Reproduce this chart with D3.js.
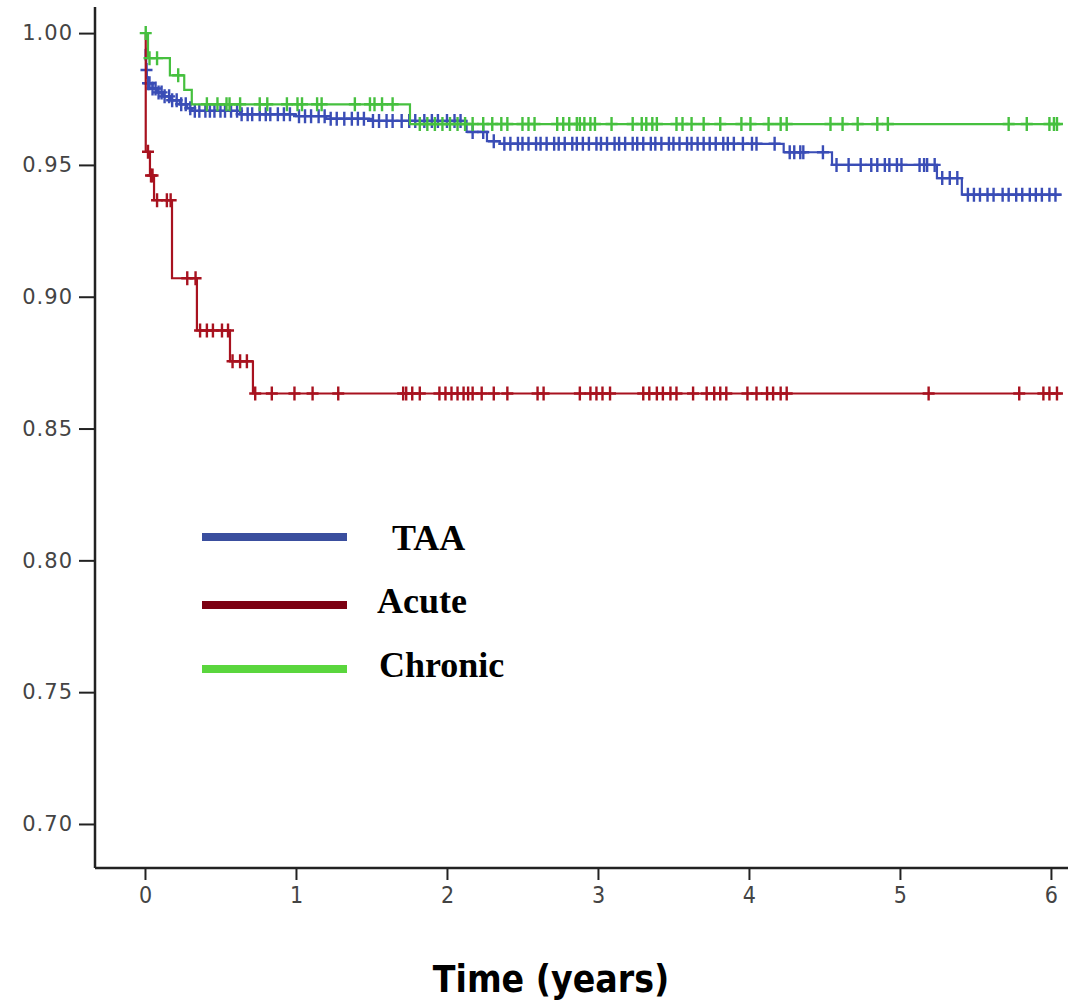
<!DOCTYPE html>
<html>
<head>
<meta charset="utf-8">
<script src="https://cdn.jsdelivr.net/npm/d3@7"></script>
<style>
  body { margin: 0; background: #fff; }
  svg { display: block; }
</style>
</head>
<body>
<div id="km"></div>
<script>
// groups, in draw order
var groups = ["TAA", "Acute", "Chronic"];
var lineColors = ["#3a4db6", "#a8121f", "#46c03f"];
var legendColors = ["#3a4e9e", "#7c0012", "#5ad63d"];

// survival steps [time (years), cumulative survival]
var taaSteps = [[0, 0.994], [0.004, 0.99], [0.008, 0.986], [0.012, 0.983], [0.02, 0.981], [0.05, 0.979],
  [0.08, 0.9775], [0.12, 0.976], [0.17, 0.9745], [0.23, 0.973], [0.28, 0.9715], [0.31, 0.9705],
  [0.63, 0.9692], [1.0, 0.9685], [1.2, 0.9675], [1.5, 0.9667], [2.13, 0.9625], [2.265, 0.959],
  [2.35, 0.958], [4.23, 0.9548], [4.55, 0.950], [5.245, 0.945], [5.41, 0.9387]];
var acuteSteps = [[0, 1.0], [0.005, 0.955], [0.033, 0.946], [0.06, 0.9366], [0.179, 0.907],
  [0.344, 0.8872], [0.563, 0.8755], [0.715, 0.8633]];
var chronicSteps = [[0, 1.0], [0.02, 0.9905], [0.165, 0.984], [0.26, 0.9785], [0.31, 0.973],
  [1.755, 0.9655]];
var endTime = 6.07;

// censored times (years)
var taaCensored = [0.01, 0.02, 0.03, 0.05, 0.07, 0.09, 0.11, 0.13, 0.16, 0.18, 0.21, 0.24, 0.27, 0.3,
  0.33, 0.36, 0.4, 0.43, 0.46, 0.5, 0.53, 0.57, 0.61, 0.64, 0.68, 0.71, 0.76, 0.8, 0.83, 0.88, 0.92, 0.96,
  1.02, 1.06, 1.1, 1.15, 1.19, 1.23, 1.27, 1.32, 1.37, 1.41, 1.45, 1.51, 1.55, 1.6, 1.64, 1.7, 1.75,
  1.79, 1.85, 1.9, 1.94, 2.0, 2.05, 2.09, 2.17, 2.24, 2.31,
  2.38, 2.42, 2.47, 2.5, 2.54, 2.59, 2.62, 2.66, 2.71, 2.74, 2.78, 2.83, 2.86, 2.9, 2.94, 2.99, 3.02,
  3.06, 3.11, 3.14, 3.18, 3.23, 3.26, 3.3, 3.35, 3.38, 3.42, 3.47, 3.5, 3.54, 3.59, 3.62, 3.66, 3.7,
  3.74, 3.78, 3.83, 3.86, 3.9, 3.96, 4.02, 4.05, 4.17,
  4.27, 4.3, 4.34, 4.36, 4.49,
  4.58, 4.66, 4.74, 4.81, 4.85, 4.9, 4.93, 4.98, 5.01, 5.13, 5.16, 5.18, 5.23,
  5.28, 5.33, 5.38,
  5.45, 5.49, 5.53, 5.58, 5.62, 5.68, 5.72, 5.77, 5.81, 5.86, 5.9, 5.94, 5.99, 6.03];
var acuteCensored = [0.02, 0.04, 0.05, 0.08, 0.145, 0.17, 0.28, 0.335, 0.365, 0.41, 0.45, 0.51, 0.55,
  0.58, 0.63, 0.675, 0.73, 0.84, 0.99, 1.11, 1.28, 1.71, 1.73, 1.77, 1.82, 1.95, 1.99, 2.03, 2.07,
  2.11, 2.14, 2.17, 2.23, 2.31, 2.4, 2.6, 2.64, 2.88, 2.95, 2.99, 3.03, 3.08, 3.3, 3.34, 3.39, 3.43,
  3.48, 3.52, 3.63, 3.72, 3.77, 3.81, 3.85, 3.99, 4.05, 4.12, 4.16, 4.21, 4.25, 5.19, 5.79, 5.95,
  5.99, 6.04];
var chronicCensored = [0.005, 0.03, 0.08, 0.22, 0.41, 0.48, 0.54, 0.56, 0.63, 0.76, 0.81, 0.94, 1.01,
  1.04, 1.14, 1.17, 1.39, 1.49, 1.52, 1.57, 1.64,
  1.82, 1.87, 1.92, 1.97, 2.02, 2.07, 2.12, 2.17, 2.24, 2.3, 2.36, 2.4, 2.5, 2.54, 2.58, 2.73, 2.77,
  2.81, 2.86, 2.88, 2.91, 2.95, 2.98, 3.09, 3.23, 3.29, 3.32, 3.36, 3.39, 3.52, 3.56, 3.62, 3.7, 3.81,
  3.95, 4.01, 4.13, 4.21, 4.25, 4.54, 4.62, 4.72, 4.85, 4.92, 5.72, 5.84, 5.99, 6.02, 6.04];

var yTicks = [0.70, 0.75, 0.80, 0.85, 0.90, 0.95, 1.00];
var xTicks = [0, 1, 2, 3, 4, 5, 6];
var xTitle = "Time (years)";

var series = [
  {name: groups[0], steps: taaSteps, censored: taaCensored},
  {name: groups[1], steps: acuteSteps, censored: acuteCensored},
  {name: groups[2], steps: chronicSteps, censored: chronicCensored}
];

var W = 1068, H = 1003;
var plot = {left: 95, right: 1068, top: 7, bottom: 868};

var svg = d3.select("#km").append("svg")
  .attr("width", W)
  .attr("height", H);

var x = d3.scaleLinear().domain([-0.331, 6.113]).range([plot.left, plot.right]);
var y = d3.scaleLinear().domain([0.6833, 1.0099]).range([plot.bottom, plot.top]);

// survival at time t (step function)
function survivalAt(steps, t) {
  var s = steps[0][1];
  steps.forEach(function (d) { if (d[0] <= t) s = d[1]; });
  return s;
}

var line = d3.line()
  .x(function (d) { return x(d[0]); })
  .y(function (d) { return y(d[1]); })
  .curve(d3.curveStepAfter);

var curves = svg.append("g").attr("class", "curves");

series.forEach(function (s, i) {
  var pts = s.steps.concat([[endTime, s.steps[s.steps.length - 1][1]]]);
  var g = curves.append("g").attr("class", "km-" + i);

  g.append("path")
    .attr("d", line(pts))
    .attr("fill", "none")
    .attr("stroke", lineColors[i])
    .attr("stroke-width", 2.2);

  // censor marks "+"
  g.selectAll("path.censor")
    .data(s.censored)
    .enter().append("path")
      .attr("class", "censor")
      .attr("d", function (t) {
        var cx = x(t), cy = y(survivalAt(s.steps, t));
        return "M" + (cx - 6) + "," + cy + "H" + (cx + 6) + "M" + cx + "," + (cy - 7) + "V" + (cy + 7);
      })
      .attr("stroke", lineColors[i])
      .attr("stroke-width", 2.4)
      .attr("fill", "none");
});

// axes
var yAxis = d3.axisLeft(y).tickValues(yTicks).tickFormat(d3.format(".2f")).tickSize(16).tickPadding(6);
var xAxis = d3.axisBottom(x).tickValues(xTicks).tickFormat(d3.format("d")).tickSize(12).tickPadding(7);

var gy = svg.append("g")
  .attr("transform", "translate(" + plot.left + ",0)")
  .call(yAxis);
var gx = svg.append("g")
  .attr("transform", "translate(0," + plot.bottom + ")")
  .call(xAxis);

[gx, gy].forEach(function (g) {
  g.select(".domain").attr("stroke", "#222").attr("stroke-width", 2.5);
  g.selectAll(".tick line").attr("stroke", "#222").attr("stroke-width", 2);
});
gy.select(".domain").attr("d", "M0," + plot.top + "V" + plot.bottom);
gx.select(".domain").attr("d", "M" + plot.left + ",0H" + plot.right);

gy.selectAll(".tick text")
  .attr("font-family", "DejaVu Sans")
  .attr("font-size", 21)
  .attr("letter-spacing", 1)
  .attr("fill", "#444");
gx.selectAll(".tick text")
  .attr("font-family", "DejaVu Sans Condensed, DejaVu Sans")
  .attr("font-size", 23)
  .attr("fill", "#444");

svg.append("text")
  .attr("x", 551)
  .attr("y", 992)
  .attr("text-anchor", "middle")
  .attr("font-family", "DejaVu Sans Condensed, DejaVu Sans")
  .attr("font-weight", "bold")
  .attr("font-size", 37)
  .attr("fill", "#000")
  .text(xTitle);

// legend
var legendY = [537, 605, 669];
var legendTextX = [392, 377, 379];
var legendTextY = [550, 613, 677];
var legend = svg.append("g").attr("class", "legend");
groups.forEach(function (name, i) {
  legend.append("line")
    .attr("x1", 202).attr("x2", 347)
    .attr("y1", legendY[i]).attr("y2", legendY[i])
    .attr("stroke", legendColors[i])
    .attr("stroke-width", 8);
  legend.append("text")
    .attr("x", legendTextX[i])
    .attr("y", legendTextY[i])
    .attr("font-family", "Liberation Serif")
    .attr("font-weight", "bold")
    .attr("font-size", 36)
    .attr("fill", "#000")
    .text(name);
});
</script>
</body>
</html>
